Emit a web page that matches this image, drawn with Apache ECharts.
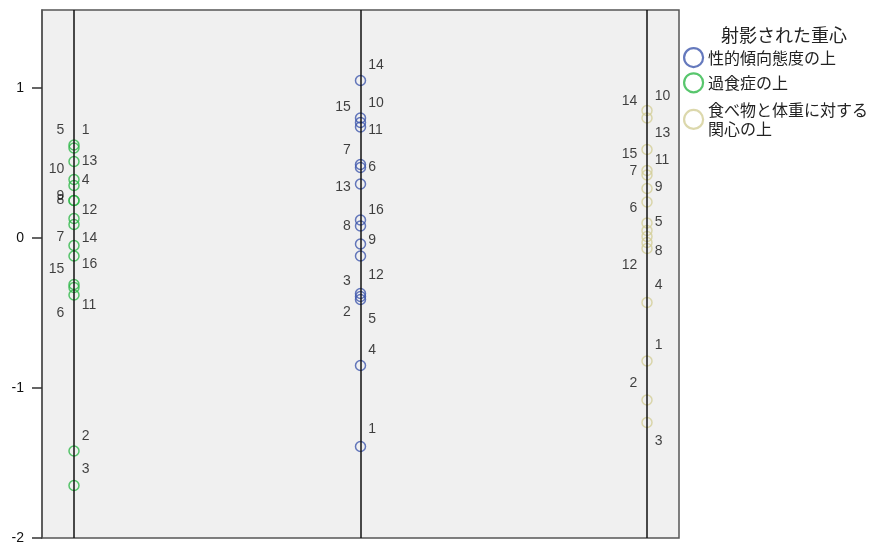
<!DOCTYPE html>
<html>
<head>
<meta charset="utf-8">
<script src="https://cdn.jsdelivr.net/npm/echarts@6/dist/echarts.min.js"></script>
<style>
  html, body { margin: 0; padding: 0; background: #fff; }
  #main { width: 874px; height: 545px; }
</style>
</head>
<body>
<div id="main"></div>
<script>
// 射影された重心 (ケース 1..16)
var caseLabels = ['1', '2', '3', '4', '5', '6', '7', '8', '9', '10', '11', '12', '13', '14', '15', '16'];
var groupNames = ['性的傾向態度の上', '過食症の上', '食べ物と体重に対する\n関心の上'];
var groupX = [2, 1, 3];
var groupColors = ['#3e58ac', '#2eb848', '#d3ce97'];

var sexValues = [-1.39, -0.39, -0.37, -0.85, -0.41, 0.47, 0.49, 0.08, -0.04, 0.80, 0.74, -0.12, 0.36, 1.05, 0.77, 0.12];
var bulimiaValues = [0.62, -1.42, -1.65, 0.35, 0.60, -0.38, 0.09, 0.25, 0.25, 0.39, -0.33, 0.13, 0.51, -0.05, -0.31, -0.12];
var foodValues = [-0.82, -1.08, -1.23, -0.43, 0.05, 0.10, 0.33, -0.03, 0.24, 0.85, 0.42, -0.07, 0.59, 0.80, 0.45, 0.01];

var yTicks = [-2, -1, 0, 1];

// ラベルの置き場所 (R=右, L=左, N=なし) と上下のずれ
var sides = [
    ['R', 'L', 'L', 'R', 'R', 'R', 'L', 'L', 'R', 'R', 'R', 'R', 'L', 'R', 'L', 'R'],
    ['R', 'R', 'R', 'R', 'L', 'L', 'L', 'L', 'L', 'L', 'R', 'R', 'R', 'R', 'L', 'R'],
    ['R', 'L', 'R', 'R', 'R', 'L', 'L', 'R', 'R', 'R', 'R', 'L', 'R', 'L', 'L', 'N']
];
var shifts = [
    [-17, 16, -12, -15, 20, 0, -14, 0, -4, -15, 3, 19, 3, -15, -15, -10],
    [-15, -15, -16, -5, -18, 18, 13, 0, -4, -10, 18, -8, 0, -7, -15, 8],
    [-16, -17, 19, -17, -8, -15, -17, 9, -15, -14, -15, 17, -16, -17, -16, 0]
];

var allValues = [sexValues, bulimiaValues, foodValues];

function buildSeries(g) {
    var pts = [];
    for (var i = 0; i < caseLabels.length; i++) {
        var side = sides[g][i];
        pts.push({
            value: [groupX[g], allValues[g][i]],
            name: caseLabels[i],
            label: {
                show: side != 'N',
                position: side == 'L' ? 'left' : 'right',
                distance: side == 'L' ? 4 : 2,
                offset: [0, shifts[g][i]]
            }
        });
    }
    return {
        name: groupNames[g],
        type: 'scatter',
        symbol: 'circle',
        symbolSize: 10,
        itemStyle: {
            color: 'transparent',
            borderColor: groupColors[g],
            borderWidth: 1.5
        },
        label: {
            formatter: '{b}',
            color: '#111',
            fontSize: 14,
            fontFamily: 'Arial'
        },
        emphasis: { disabled: true },
        markLine: {
            silent: true,
            symbol: ['none', 'none'],
            label: { show: false },
            lineStyle: { color: '#111', width: 1.5, type: 'solid' },
            data: [{ xAxis: groupX[g] }]
        },
        data: pts
    };
}

var myChart = echarts.init(document.getElementById('main'));
var option = {
    animation: false,
    backgroundColor: '#fff',
    title: {
        text: '射影された重心',
        left: 716,
        top: 21,
        textStyle: {
            fontSize: 18,
            fontWeight: 'normal',
            color: '#222',
            fontFamily: 'Noto Sans CJK JP'
        }
    },
    legend: {
        orient: 'vertical',
        left: 678,
        top: 42,
        itemWidth: 19,
        itemHeight: 19,
        itemGap: 4,
        icon: 'circle',
        selectedMode: false,
        textStyle: {
            fontSize: 16,
            lineHeight: 19,
            color: '#222',
            fontFamily: 'Noto Sans CJK JP'
        },
        data: groupNames.map(function (n, g) {
            var item = {
                name: n,
                itemStyle: { color: 'transparent', borderColor: groupColors[g], borderWidth: 2.2 }
            };
            if (g == 2) item.textStyle = { padding: [6, 0, 0, 0] };
            return item;
        })
    },
    grid: {
        left: 42,
        top: 10,
        right: 195,
        bottom: 7,
        show: true,
        backgroundColor: '#f0f0f0',
        borderColor: '#555',
        borderWidth: 1.5
    },
    xAxis: {
        type: 'value',
        min: 0.8883,
        max: 3.1117,
        axisLine: { show: false },
        axisTick: { show: false },
        axisLabel: { show: false },
        splitLine: { show: false }
    },
    yAxis: {
        type: 'value',
        min: -2,
        max: 1.52,
        interval: 1,
        axisLine: { show: true, lineStyle: { color: '#555', width: 1.5 } },
        axisTick: { show: true, length: 10, customValues: yTicks, lineStyle: { color: '#333', width: 1.5 } },
        axisLabel: {
            customValues: yTicks,
            margin: 18,
            color: '#111',
            fontSize: 14,
            fontFamily: 'Arial'
        },
        splitLine: { show: false }
    },
    series: [buildSeries(0), buildSeries(1), buildSeries(2)]
};
myChart.setOption(option);
</script>
</body>
</html>
